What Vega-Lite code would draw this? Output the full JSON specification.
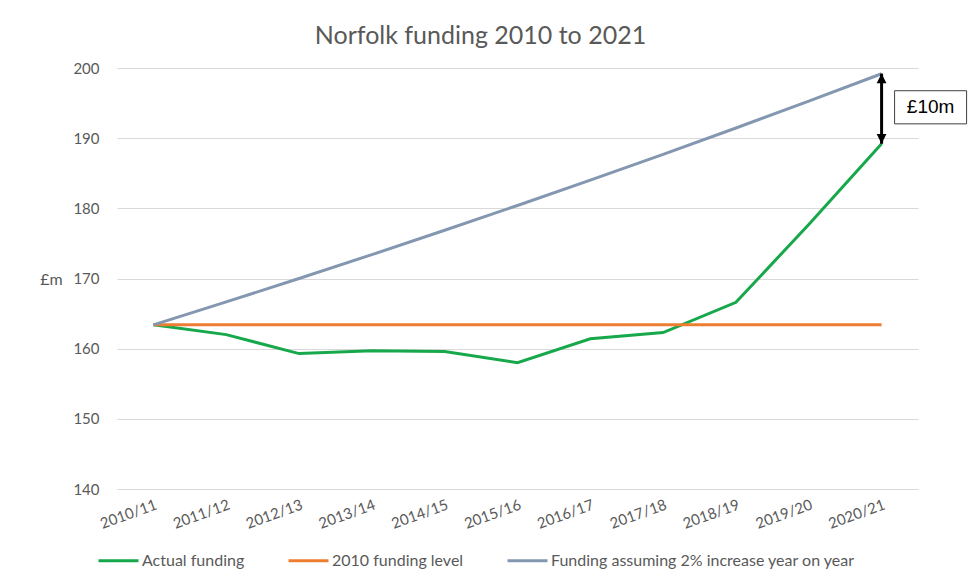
{
  "$schema": "https://vega.github.io/schema/vega-lite/v6.json",
  "width": 801,
  "height": 421,
  "autosize": {"type": "none"},
  "padding": {"left": 117, "top": 68, "right": 50, "bottom": 95},
  "background": "white",
  "config": {
    "view": {"stroke": null},
    "font": "Lato"
  },
  "title": {
    "text": "Norfolk funding 2010 to 2021",
    "fontSize": 25,
    "font": "Lato",
    "fontWeight": "normal",
    "color": "#595959",
    "anchor": "middle",
    "dx": -37,
    "offset": 12
  },
  "data": {
    "values": [
      {"year": "2010/11", "series": "Actual funding", "value": 163.4},
      {"year": "2011/12", "series": "Actual funding", "value": 162.0},
      {"year": "2012/13", "series": "Actual funding", "value": 159.3},
      {"year": "2013/14", "series": "Actual funding", "value": 159.7},
      {"year": "2014/15", "series": "Actual funding", "value": 159.6},
      {"year": "2015/16", "series": "Actual funding", "value": 158.0},
      {"year": "2016/17", "series": "Actual funding", "value": 161.4},
      {"year": "2017/18", "series": "Actual funding", "value": 162.3},
      {"year": "2018/19", "series": "Actual funding", "value": 166.6},
      {"year": "2019/20", "series": "Actual funding", "value": 177.7},
      {"year": "2020/21", "series": "Actual funding", "value": 189.2},
      {"year": "2010/11", "series": "2010 funding level", "value": 163.4},
      {"year": "2011/12", "series": "2010 funding level", "value": 163.4},
      {"year": "2012/13", "series": "2010 funding level", "value": 163.4},
      {"year": "2013/14", "series": "2010 funding level", "value": 163.4},
      {"year": "2014/15", "series": "2010 funding level", "value": 163.4},
      {"year": "2015/16", "series": "2010 funding level", "value": 163.4},
      {"year": "2016/17", "series": "2010 funding level", "value": 163.4},
      {"year": "2017/18", "series": "2010 funding level", "value": 163.4},
      {"year": "2018/19", "series": "2010 funding level", "value": 163.4},
      {"year": "2019/20", "series": "2010 funding level", "value": 163.4},
      {"year": "2020/21", "series": "2010 funding level", "value": 163.4},
      {"year": "2010/11", "series": "Funding assuming 2% increase year on year", "value": 163.4},
      {"year": "2011/12", "series": "Funding assuming 2% increase year on year", "value": 166.67},
      {"year": "2012/13", "series": "Funding assuming 2% increase year on year", "value": 170.0},
      {"year": "2013/14", "series": "Funding assuming 2% increase year on year", "value": 173.4},
      {"year": "2014/15", "series": "Funding assuming 2% increase year on year", "value": 176.87},
      {"year": "2015/16", "series": "Funding assuming 2% increase year on year", "value": 180.41},
      {"year": "2016/17", "series": "Funding assuming 2% increase year on year", "value": 184.01},
      {"year": "2017/18", "series": "Funding assuming 2% increase year on year", "value": 187.69},
      {"year": "2018/19", "series": "Funding assuming 2% increase year on year", "value": 191.45},
      {"year": "2019/20", "series": "Funding assuming 2% increase year on year", "value": 195.28},
      {"year": "2020/21", "series": "Funding assuming 2% increase year on year", "value": 199.18}
    ]
  },
  "layer": [
    {
      "mark": {"type": "line", "strokeWidth": 3},
      "encoding": {
        "x": {
          "field": "year",
          "type": "ordinal",
          "scale": {"type": "point", "padding": 0.5},
          "axis": {
            "title": null,
            "labelAngle": -20,
            "labelFontSize": 15,
            "labelColor": "#595959",
            "labelPadding": 8,
            "ticks": false,
            "domain": false,
            "grid": false
          }
        },
        "y": {
          "field": "value",
          "type": "quantitative",
          "scale": {"domain": [140, 200], "nice": false, "zero": false},
          "axis": {
            "values": [140, 150, 160, 170, 180, 190, 200],
            "title": "£m",
            "titleAngle": 0,
            "titleX": -66,
            "titleY": 211,
            "titleAlign": "center",
            "titleBaseline": "middle",
            "titleFontSize": 16,
            "titleFontWeight": "normal",
            "titleColor": "#595959",
            "labelFontSize": 15,
            "labelColor": "#595959",
            "labelPadding": 18,
            "ticks": false,
            "domain": false,
            "grid": true,
            "gridColor": "#d9d9d9",
            "gridWidth": 1
          }
        },
        "color": {
          "field": "series",
          "type": "nominal",
          "scale": {
            "domain": ["Actual funding", "2010 funding level", "Funding assuming 2% increase year on year"],
            "range": ["#17a84b", "#ed7d31", "#8497b0"]
          },
          "legend": {
            "title": null,
            "orient": "none",
            "direction": "horizontal",
            "legendX": -20,
            "legendY": 471,
            "symbolType": "stroke",
            "symbolSize": 1600,
            "symbolStrokeWidth": 3,
            "labelFontSize": 16,
            "labelColor": "#595959",
            "labelOffset": 2,
            "labelLimit": 500,
            "columnPadding": 37
          }
        }
      }
    },
    {
      "data": {"values": [{"year": "2020/21", "lo": 189.2, "hi": 199.2}]},
      "mark": {"type": "rule", "color": "black", "strokeWidth": 3},
      "encoding": {
        "x": {"field": "year", "type": "ordinal"},
        "y": {"field": "lo", "type": "quantitative"},
        "y2": {"field": "hi"}
      }
    },
    {
      "data": {"values": [{"year": "2020/21", "v": 199.2}]},
      "mark": {"type": "point", "shape": "M0,0L-0.65,1.3L0.65,1.3Z", "size": 225, "filled": true, "color": "black", "opacity": 1},
      "encoding": {
        "x": {"field": "year", "type": "ordinal"},
        "y": {"field": "v", "type": "quantitative"}
      }
    },
    {
      "data": {"values": [{"year": "2020/21", "v": 189.2}]},
      "mark": {"type": "point", "shape": "M0,0L-0.65,-1.3L0.65,-1.3Z", "size": 225, "filled": true, "color": "black", "opacity": 1},
      "encoding": {
        "x": {"field": "year", "type": "ordinal"},
        "y": {"field": "v", "type": "quantitative"}
      }
    },
    {
      "data": {"values": [{"year": "2020/21", "mid": 194.4}]},
      "mark": {"type": "point", "shape": "M-1,-0.46H1V0.46H-1Z", "size": 5184, "filled": false, "fill": "white", "fillOpacity": 1, "stroke": "#404040", "strokeWidth": 1, "opacity": 1, "xOffset": 49},
      "encoding": {
        "x": {"field": "year", "type": "ordinal"},
        "y": {"field": "mid", "type": "quantitative"}
      }
    },
    {
      "data": {"values": [{"year": "2020/21", "mid": 194.4, "label": "£10m"}]},
      "mark": {"type": "text", "font": "Liberation Sans", "fontSize": 19, "color": "black", "xOffset": 49, "align": "center", "baseline": "middle"},
      "encoding": {
        "x": {"field": "year", "type": "ordinal"},
        "y": {"field": "mid", "type": "quantitative"},
        "text": {"field": "label"}
      }
    }
  ]
}
